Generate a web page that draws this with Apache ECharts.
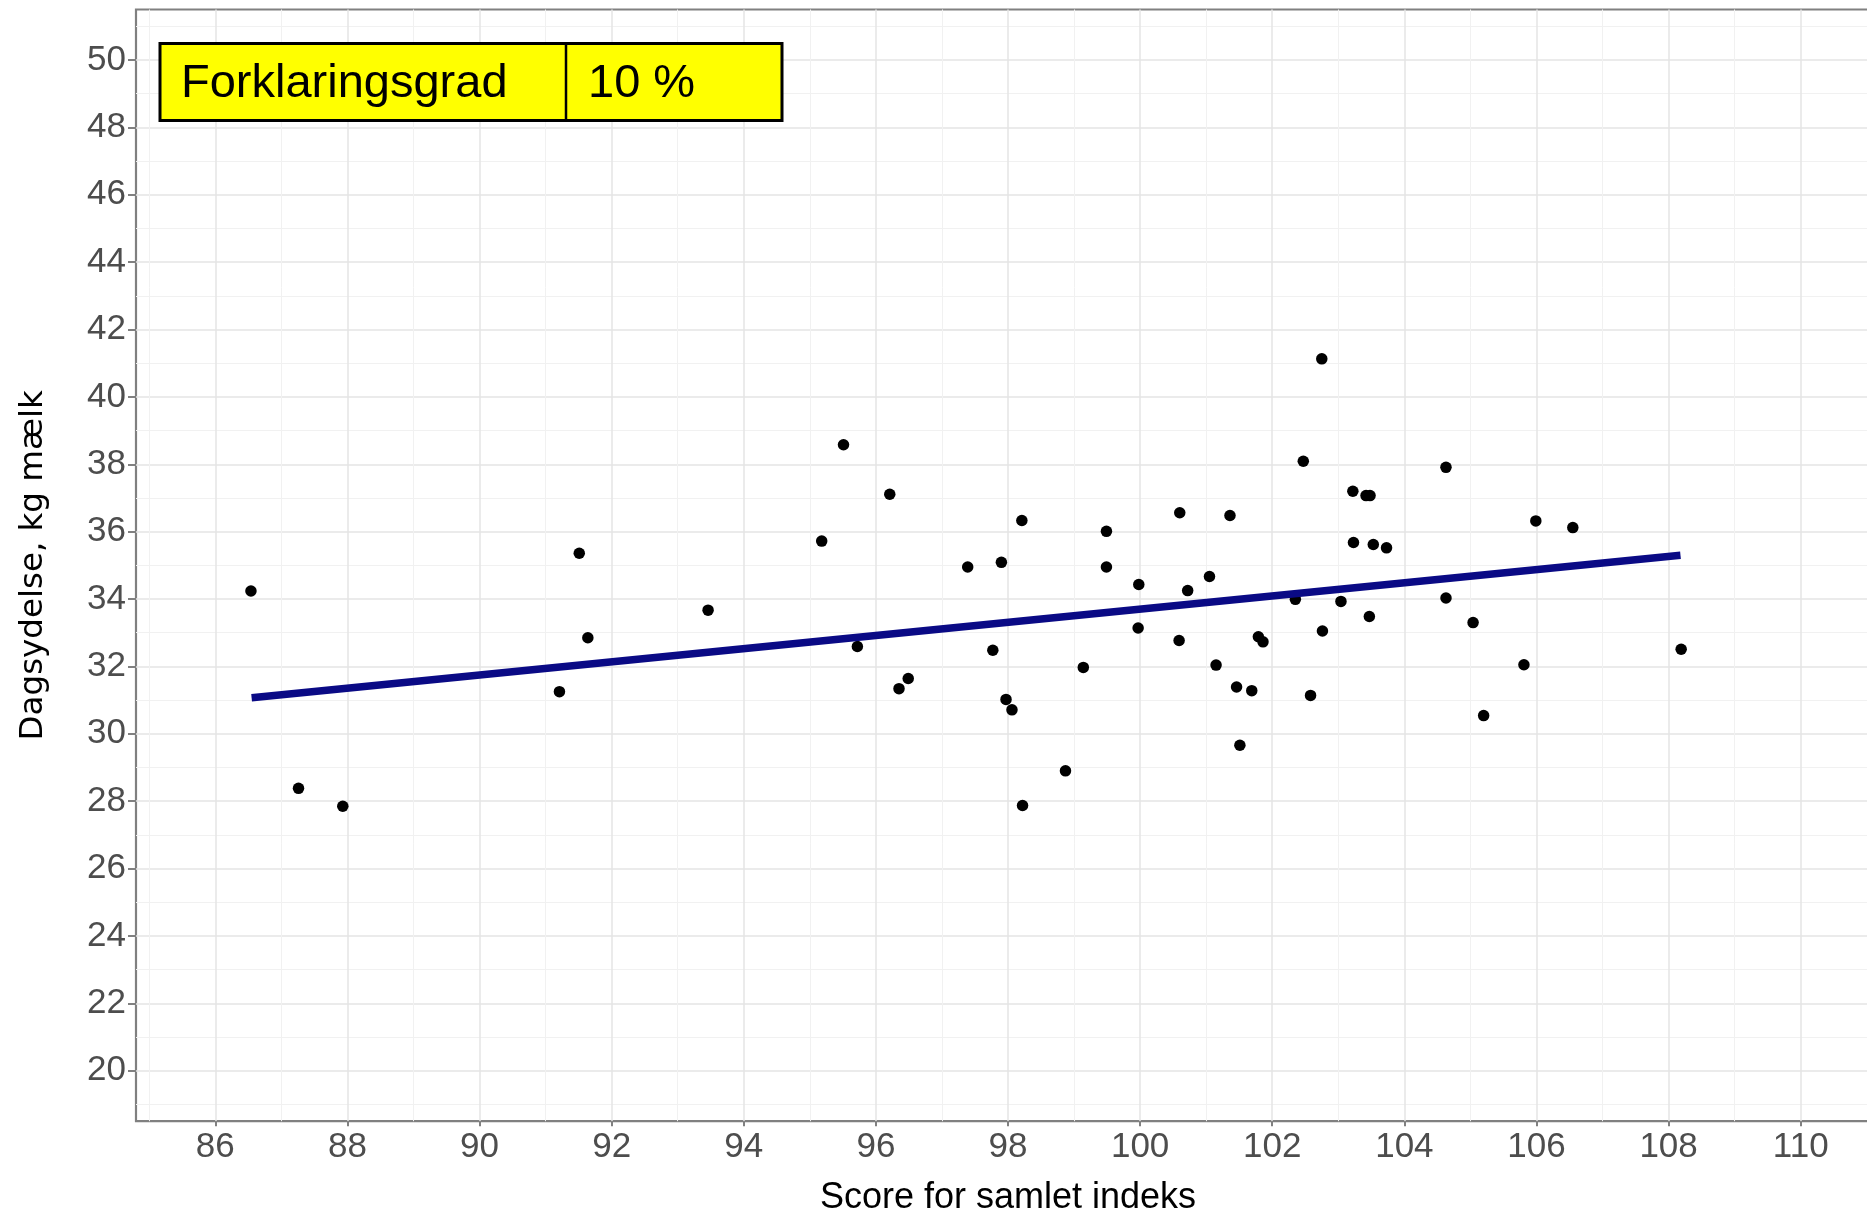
<!DOCTYPE html>
<html>
<head>
<meta charset="utf-8">
<script src="https://cdn.jsdelivr.net/npm/echarts@6/dist/echarts.min.js"></script>
<style>html,body{margin:0;padding:0;background:#fff}#c{width:1867px;height:1211px}</style>
</head>
<body>
<div id="c"></div>
<script>
// Data
const xScores = [86.54, 87.26, 87.93, 91.21, 91.51, 91.64, 93.46, 95.18, 95.51, 95.72,
  96.21, 96.35, 96.49, 97.39, 97.77, 97.90, 97.97, 98.06, 98.22, 98.21,
  98.87, 99.14, 99.49, 99.49, 99.98, 99.97, 100.60, 100.59, 100.72, 101.05,
  101.15, 101.36, 101.46, 101.51, 101.69, 101.79, 101.86, 102.35, 102.47, 102.58,
  102.75, 102.76, 103.04, 103.22, 103.23, 103.42, 103.48, 103.47, 103.53, 103.73,
  104.63, 104.63, 105.04, 105.20, 105.81, 105.99, 106.55, 108.19];
const yMilk = [34.24, 28.38, 27.85, 31.25, 35.36, 32.85, 33.67, 35.72, 38.58, 32.59,
  37.11, 31.34, 31.64, 34.95, 32.48, 35.09, 31.02, 30.71, 27.87, 36.33,
  28.90, 31.97, 36.01, 34.95, 34.43, 33.14, 36.56, 32.77, 34.25, 34.67,
  32.04, 36.48, 31.39, 29.66, 31.28, 32.88, 32.73, 33.99, 38.09, 31.14,
  41.13, 33.05, 33.93, 37.20, 35.68, 37.07, 37.07, 33.48, 35.62, 35.52,
  37.91, 34.03, 33.30, 30.54, 32.05, 36.32, 36.12, 32.51];
const fitX = [86.55, 108.18];
const fitY = [31.07, 35.30];
const xTicks = [86, 88, 90, 92, 94, 96, 98, 100, 102, 104, 106, 108, 110];
const yTicks = [20, 22, 24, 26, 28, 30, 32, 34, 36, 38, 40, 42, 44, 46, 48, 50];
const xTitle = 'Score for samlet indeks';
const yTitle = 'Dagsydelse, kg mælk';
const boxLabel = 'Forklaringsgrad';
const boxValue = '10 %';

const points = xScores.map((x, i) => [x, yMilk[i]]);
const fitLine = fitX.map((x, i) => [x, fitY[i]]);

const tickFont = 'Liberation Sans';
const chart = echarts.init(document.getElementById('c'));
chart.setOption({
  animation: false,
  backgroundColor: '#ffffff',
  grid: {
    left: 136, top: 9.5, width: 1744, height: 1111.7,
    outerBoundsMode: 'none', containLabel: false,
    show: true, borderColor: '#808080', borderWidth: 2.2, backgroundColor: 'transparent'
  },
  xAxis: {
    type: 'value', min: 84.8, max: 111.2, minInterval: 2, maxInterval: 2, splitNumber: 13,
    axisLine: { show: false },
    axisTick: { show: true, length: 5, customValues: xTicks, lineStyle: { color: '#808080', width: 2 } },
    axisLabel: { customValues: xTicks, fontSize: 35, color: '#4d4d4d', fontFamily: tickFont, margin: 9 },
    splitLine: { show: true, lineStyle: { color: '#e4e4e4', width: 1.5 } },
    minorTick: { show: false, splitNumber: 2 },
    minorSplitLine: { show: true, lineStyle: { color: '#f1f1f1', width: 1 } },
    name: xTitle, nameLocation: 'middle', nameGap: 59,
    nameTextStyle: { fontSize: 36, color: '#000', fontFamily: 'Liberation Sans' }
  },
  yAxis: {
    type: 'value', min: 18.5, max: 51.5, minInterval: 2, maxInterval: 2, splitNumber: 16,
    axisLine: { show: false },
    axisTick: { show: true, length: 8, customValues: yTicks, lineStyle: { color: '#808080', width: 2 } },
    axisLabel: { customValues: yTicks, fontSize: 35, color: '#4d4d4d', fontFamily: tickFont, margin: 10 },
    splitLine: { show: true, lineStyle: { color: '#e4e4e4', width: 1.5 } },
    minorTick: { show: false, splitNumber: 2 },
    minorSplitLine: { show: true, lineStyle: { color: '#f1f1f1', width: 1 } },
    name: yTitle, nameLocation: 'middle', nameGap: 86, nameRotate: 90,
    nameTextStyle: { fontSize: 32.5, color: '#000', fontFamily: 'DejaVu Sans' }
  },
  series: [
    {
      type: 'scatter', data: points, symbol: 'circle', symbolSize: 11.5,
      itemStyle: { color: '#000000', opacity: 1 }, z: 3
    },
    {
      type: 'line', data: fitLine, showSymbol: false, symbol: 'none',
      lineStyle: { color: '#0a0a85', width: 7.5, cap: 'butt' }, z: 4
    }
  ],
  graphic: [
    { type: 'rect', z: 100, shape: { x: 160, y: 43.5, width: 622, height: 77 },
      style: { fill: '#ffff00', stroke: '#000', lineWidth: 3 } },
    { type: 'line', z: 101, shape: { x1: 566, y1: 43.5, x2: 566, y2: 120.5 },
      style: { stroke: '#000', lineWidth: 2.5 } },
    { type: 'text', z: 102, x: 181, y: 84,
      style: { text: boxLabel, fontSize: 47, fontFamily: 'Liberation Sans', fill: '#000', verticalAlign: 'middle', align: 'left' } },
    { type: 'text', z: 102, x: 588, y: 84,
      style: { text: boxValue, fontSize: 47, fontFamily: 'Liberation Sans', fill: '#000', verticalAlign: 'middle', align: 'left' } }
  ]
});
</script>
</body>
</html>
